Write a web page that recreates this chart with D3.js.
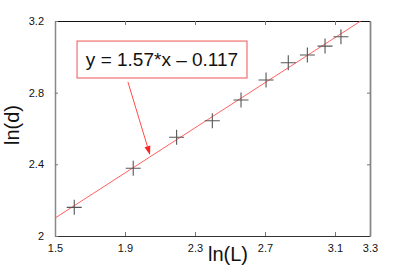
<!DOCTYPE html>
<html><head><meta charset="utf-8">
<script src="https://cdn.jsdelivr.net/npm/d3@7"></script>
<style>
html,body{margin:0;padding:0;background:#fff;}
svg{display:block;font-family:"Liberation Sans",Arial,sans-serif;}
</style></head>
<body><svg id="c" width="408" height="273"></svg>
<script>
// data
const lnL = [1.610, 1.947, 2.195, 2.399, 2.563, 2.706, 2.833, 2.942, 3.043, 3.134];
const lnD = [2.160, 2.378, 2.551, 2.643, 2.759, 2.871, 2.967, 3.010, 3.060, 3.112];
const xTicks = [1.5, 1.9, 2.3, 2.7, 3.1, 3.3];
const yTicks = [2, 2.4, 2.8, 3.2];
const fitLine = [[1.5, 2.100], [3.247, 3.200]];
const fitLabel = "y = 1.57*x \u2013 0.117";

const svg = d3.select("#c");
const L = 55, R = 370, T = 21, B = 236;
const x = d3.scaleLinear().domain([1.5, 3.3]).range([L, R]);
const y = d3.scaleLinear().domain([2, 3.2]).range([B, T]);
const fmt = d => (d === 2 ? "2" : d3.format(".1f")(d));

// bottom axis
const gb = svg.append("g").attr("transform", `translate(0,${B})`)
  .call(d3.axisBottom(x).tickValues(xTicks).tickFormat(fmt).tickSizeInner(-4).tickSizeOuter(0).tickPadding(8));
// top axis
const gt = svg.append("g").attr("transform", `translate(0,${T})`)
  .call(d3.axisTop(x).tickValues(xTicks.slice(1, -1)).tickFormat("").tickSizeInner(-4).tickSizeOuter(0));
// left axis
const gl = svg.append("g").attr("transform", `translate(${L},0)`)
  .call(d3.axisLeft(y).tickValues(yTicks).tickFormat(fmt).tickSizeInner(-3).tickSizeOuter(0).tickPadding(11));
// right axis
const gr = svg.append("g").attr("transform", `translate(${R},0)`)
  .call(d3.axisRight(y).tickValues(yTicks.slice(1, -1)).tickFormat("").tickSizeInner(-3).tickSizeOuter(0));

[gb, gt, gl, gr].forEach(g => {
  g.selectAll("text").attr("font-size", 11).attr("fill", "#111")
    .attr("font-family", "'Liberation Sans',Arial,sans-serif");
  g.selectAll(".tick line").attr("stroke", "#777");
});
gb.select(".domain").attr("stroke", "#333").attr("stroke-width", 1.2);
gt.select(".domain").attr("stroke", "#111").attr("stroke-width", 1.2);
gl.select(".domain").attr("stroke", "#888").attr("stroke-width", 1.5);
gr.select(".domain").attr("stroke", "#888").attr("stroke-width", 1.8);

// clip
svg.append("clipPath").attr("id", "clip").append("rect")
  .attr("x", L).attr("y", T).attr("width", R - L).attr("height", B - T);

// fit line
svg.append("path").attr("clip-path", "url(#clip)")
  .attr("d", d3.line().x(d => x(d[0])).y(d => y(d[1]))(fitLine))
  .attr("stroke", "#ff6060").attr("stroke-width", 1).attr("fill", "none");

// points
const pts = lnL.map((v, i) => [v, lnD[i]]);
svg.append("g").selectAll("path").data(pts).join("path")
  .attr("d", d => {
    const cx = x(d[0]), cy = y(d[1]), s = 7.5;
    return `M${cx - s},${cy}H${cx + s}M${cx},${cy - s}V${cy + s}`;
  })
  .attr("stroke", "#555").attr("stroke-width", 1.1).attr("fill", "none");

// annotation box
const box = {x0: 1.626, x1: 2.597, y0: 2.882, y1: 3.088};
svg.append("rect")
  .attr("x", x(box.x0)).attr("y", y(box.y1))
  .attr("width", x(box.x1) - x(box.x0)).attr("height", y(box.y0) - y(box.y1))
  .attr("fill", "#fff").attr("stroke", "#f07070").attr("stroke-width", 1.2);
svg.append("text")
  .attr("x", (x(box.x0) + x(box.x1)) / 2).attr("y", y(box.y0) - 12)
  .attr("text-anchor", "middle").attr("font-size", 19).attr("fill", "#111")
  .text(fitLabel);

// arrow
const arrFrom = [1.917, 2.859], arrTo = [2.043, 2.452];
const ax0 = x(arrFrom[0]), ay0 = y(arrFrom[1]), ax1 = x(arrTo[0]), ay1 = y(arrTo[1]);
const ang = Math.atan2(ay1 - ay0, ax1 - ax0);
const hl = 9, hw = 3;
const bx = ax1 - hl * Math.cos(ang), by = ay1 - hl * Math.sin(ang);
svg.append("line").attr("x1", ax0).attr("y1", ay0).attr("x2", bx).attr("y2", by)
  .attr("stroke", "#ff4a4a").attr("stroke-width", 1);
svg.append("path")
  .attr("d", `M${ax1},${ay1}L${bx - hw * Math.sin(ang)},${by + hw * Math.cos(ang)}L${bx + hw * Math.sin(ang)},${by - hw * Math.cos(ang)}Z`)
  .attr("fill", "#ff2020");

// axis labels
svg.append("text").attr("x", 228).attr("y", 261).attr("text-anchor", "middle")
  .attr("font-size", 20).attr("fill", "#111").text("ln(L)");
svg.append("text").attr("transform", "translate(19,125) rotate(-90)").attr("text-anchor", "middle")
  .attr("font-size", 20).attr("fill", "#111").text("ln(d)");
</script></body></html>
